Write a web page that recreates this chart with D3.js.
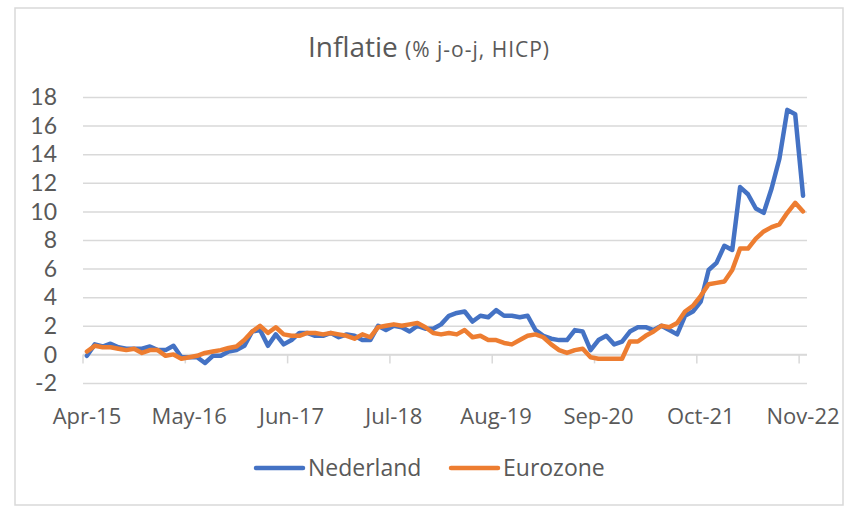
<!DOCTYPE html>
<html>
<head>
<meta charset="utf-8">
<script src="https://cdn.jsdelivr.net/npm/d3@7"></script>
<style>
  body { margin: 0; background: #fff; }
  text { font-family: "Open Sans", Lato, sans-serif; fill: #595959; }
  .ylabel { font-family: Lato, "Open Sans", sans-serif; }
</style>
</head>
<body>
<div class="chart"></div>
<script>
// monthly categories Apr-15 .. Nov-22
var months = d3.timeMonth.range(new Date(2015, 3, 1), new Date(2022, 11, 1));
var tickLabels = ["Apr-15", "May-16", "Jun-17", "Jul-18", "Aug-19", "Sep-20", "Oct-21", "Nov-22"];
var yTicks = [-2, 0, 2, 4, 6, 8, 10, 12, 14, 16, 18];

var nederland = [
  -0.1, 0.7, 0.55, 0.75, 0.5, 0.4, 0.4, 0.4, 0.55,
  0.3, 0.3, 0.6, -0.2, -0.2, -0.2, -0.6, -0.1, -0.1, 0.2, 0.3, 0.6,
  1.6, 1.7, 0.6, 1.4, 0.7, 1.0, 1.5, 1.5, 1.3, 1.3, 1.5, 1.2,
  1.4, 1.3, 1.0, 1.0, 2.0, 1.7, 2.0, 1.9, 1.6, 2.0, 1.8, 1.8,
  2.1, 2.7, 2.9, 3.0, 2.3, 2.7, 2.6, 3.1, 2.7, 2.7, 2.6, 2.7,
  1.7, 1.3, 1.1, 1.0, 1.0, 1.7, 1.6, 0.3, 1.0, 1.3, 0.7, 0.9,
  1.6, 1.9, 1.9, 1.7, 2.0, 1.7, 1.4, 2.7, 3.0, 3.7, 5.9, 6.4,
  7.6, 7.3, 11.7, 11.2, 10.2, 9.9, 11.6, 13.7, 17.1, 16.8, 11.1
];
var eurozone = [
  0.2, 0.6, 0.5, 0.5, 0.4, 0.3, 0.4, 0.1, 0.3,
  0.3, -0.1, 0.0, -0.3, -0.2, -0.1, 0.1, 0.2, 0.3, 0.45, 0.55, 1.0,
  1.6, 2.0, 1.5, 1.9, 1.4, 1.3, 1.3, 1.5, 1.5, 1.4, 1.5, 1.4,
  1.3, 1.1, 1.4, 1.2, 1.9, 2.0, 2.1, 2.0, 2.1, 2.2, 1.9, 1.5,
  1.4, 1.5, 1.4, 1.7, 1.2, 1.3, 1.0, 1.0, 0.8, 0.7, 1.0, 1.3,
  1.4, 1.2, 0.7, 0.3, 0.1, 0.3, 0.4, -0.2, -0.3, -0.3, -0.3, -0.3,
  0.9, 0.9, 1.3, 1.6, 2.0, 1.9, 2.2, 3.0, 3.4, 4.1, 4.9, 5.0,
  5.1, 5.9, 7.4, 7.4, 8.1, 8.6, 8.9, 9.1, 9.9, 10.6, 10.0
];
var series = [
  { name: "Nederland", values: nederland, color: "#4472C4" },
  { name: "Eurozone", values: eurozone, color: "#ED7D31" }
];

var fullWidth = 858;
var fullHeight = 516;
var plot = { left: 83, right: 807, top: 97, bottom: 383 };

var svg = d3
  .select(".chart")
  .append("svg")
  .attr("width", fullWidth)
  .attr("height", fullHeight);

// chart frame
svg
  .append("rect")
  .attr("x", 15)
  .attr("y", 8)
  .attr("width", 828)
  .attr("height", 497)
  .attr("fill", "#fff")
  .attr("stroke", "#d9d9d9")
  .attr("stroke-width", 1.5);

var xScale = d3
  .scaleBand()
  .domain(d3.range(months.length))
  .range([plot.left, plot.right])
  .padding(0);

var yScale = d3
  .scaleLinear()
  .domain([-2, 18])
  .range([plot.bottom, plot.top]);

var cx = i => xScale(i) + xScale.bandwidth() / 2;

// gridlines
var grid = svg
  .append("g")
  .attr("transform", `translate(${plot.left}, 0)`)
  .call(
    d3.axisLeft(yScale)
      .tickValues(yTicks)
      .tickSize(-(plot.right - plot.left))
      .tickFormat("")
  );
grid.select(".domain").remove();
grid.selectAll("line").attr("stroke", "#d9d9d9").attr("stroke-width", 1.5);

// y labels, right aligned left of the plot
svg
  .selectAll(".ylabel")
  .data(yTicks)
  .enter()
  .append("text")
  .attr("class", "ylabel")
  .attr("x", 57)
  .attr("y", d => yScale(d))
  .attr("dy", "0.36em")
  .attr("text-anchor", "end")
  .style("font-size", "23px")
  .text(d => d);

// category axis at y = 0
var labelIdx = d3.range(0, months.length, 13);
var fmt = d3.timeFormat("%b-%y");

svg
  .append("line")
  .attr("x1", plot.left)
  .attr("x2", plot.right)
  .attr("y1", yScale(0))
  .attr("y2", yScale(0))
  .attr("stroke", "#d9d9d9")
  .attr("stroke-width", 1.5);

svg
  .selectAll(".xtick")
  .data(labelIdx)
  .enter()
  .append("line")
  .attr("class", "xtick")
  .attr("x1", d => xScale(d))
  .attr("x2", d => xScale(d))
  .attr("y1", yScale(0))
  .attr("y2", yScale(0) + 9)
  .attr("stroke", "#d9d9d9")
  .attr("stroke-width", 1.5);

svg
  .selectAll(".xlabel")
  .data(labelIdx)
  .enter()
  .append("text")
  .attr("class", "xlabel")
  .attr("x", d => cx(d))
  .attr("y", 424)
  .attr("text-anchor", "middle")
  .style("font-size", "22px")
  .text((d, k) => tickLabels[k] || fmt(months[d]));

// lines
var line = d3
  .line()
  .x((d, i) => cx(i))
  .y(d => yScale(d));

svg
  .selectAll(".series")
  .data(series)
  .enter()
  .append("path")
  .attr("class", "series")
  .attr("d", d => line(d.values))
  .attr("fill", "none")
  .attr("stroke", d => d.color)
  .attr("stroke-width", 4.5)
  .attr("stroke-linejoin", "round")
  .attr("stroke-linecap", "round");

// title
var title = svg
  .append("text")
  .attr("x", 429)
  .attr("y", 57)
  .attr("text-anchor", "middle");
title.append("tspan").style("font-size", "28px").text("Inflatie ");
title
  .append("tspan")
  .style("font-size", "21px")
  .style("letter-spacing", "1px")
  .text("(% j-o-j, HICP)");

// legend
var legend = svg
  .selectAll(".legend")
  .data(series)
  .enter()
  .append("g")
  .attr("class", "legend")
  .attr("transform", (d, i) => `translate(${i ? 451 : 256}, 468)`);

legend
  .append("line")
  .attr("x1", 0)
  .attr("x2", 47)
  .attr("stroke", d => d.color)
  .attr("stroke-width", 4.5)
  .attr("stroke-linecap", "round");

legend
  .append("text")
  .attr("x", 52)
  .attr("dy", "0.36em")
  .style("font-size", "23px")
  .text(d => d.name);
</script>
</body>
</html>
